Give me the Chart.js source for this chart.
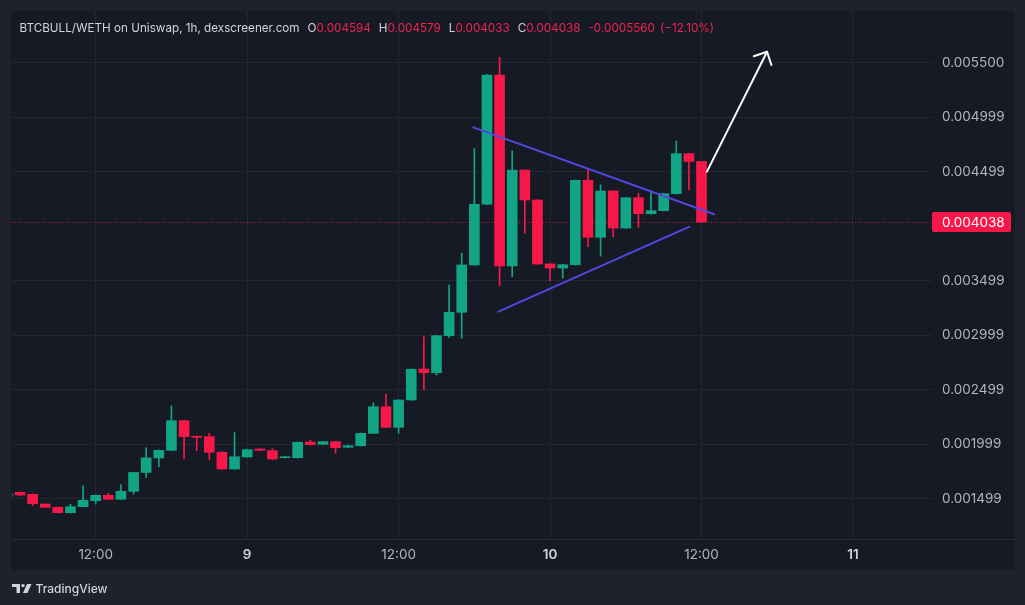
<!DOCTYPE html>
<html>
<head>
<meta charset="utf-8">
<title>BTCBULL/WETH 1h</title>
<script src="https://cdn.jsdelivr.net/npm/chart.js@4.4.1/dist/chart.umd.min.js"></script>
<style>
  html, body { margin: 0; padding: 0; background: #1f222c; }
  #wrap { position: relative; width: 1025px; height: 605px; }
</style>
</head>
<body>
<div id="wrap"><canvas id="chart"></canvas></div>
<script>
// Hour offsets from 00:00 on day 8, one candle per hour
const hours = [5,6,7,8,9,10,11,12,13,14,15,16,17,18,19,20,21,22,23,24,25,26,27,28,29,30,31,32,
  33,34,35,36,37,38,39,40,41,42,43,44,45,46,47,48,49,50,51,52,53,54,55,56,57,58,59,60];

const opens = [0.001520,0.001558,0.001539,0.001450,0.001420,0.001371,0.001426,0.001481,0.001530,0.001494,
  0.001567,0.001740,0.001873,0.001943,0.002215,0.002072,0.002068,0.001925,0.001772,0.001882,
  0.001955,0.001940,0.001875,0.001875,0.002019,0.001998,0.002022,0.001971,0.001985,0.002099,
  0.002343,0.002154,0.002405,0.002689,0.002655,0.002995,0.003210,0.003644,0.004201,0.005387,
  0.003634,0.004515,0.004240,0.003653,0.003616,0.003646,0.004421,0.003898,0.004323,0.003983,
  0.004261,0.004114,0.004142,0.004298,0.004665,0.004594];

const highs = [0.001560,0.001560,0.001542,0.001452,0.001422,0.001448,0.001616,0.001532,0.001549,0.001628,
  0.001742,0.001967,0.001945,0.002350,0.002218,0.002074,0.002099,0.001928,0.002105,0.001952,
  0.001957,0.001958,0.001886,0.002019,0.002038,0.002024,0.002025,0.001988,0.002102,0.002380,
  0.002457,0.002408,0.002690,0.002986,0.002998,0.003460,0.003751,0.004711,0.005390,0.005550,
  0.004690,0.004518,0.004243,0.003656,0.003649,0.004424,0.004525,0.004378,0.004326,0.004264,
  0.004302,0.004325,0.004301,0.004782,0.004668,0.004579];

const lows = [0.001500,0.001530,0.001435,0.001418,0.001368,0.001368,0.001423,0.001450,0.001492,0.001490,
  0.001542,0.001695,0.001793,0.001940,0.001863,0.001940,0.001854,0.001768,0.001768,0.001880,
  0.001941,0.001860,0.001873,0.001873,0.001993,0.001996,0.001916,0.001968,0.001982,0.002096,
  0.002150,0.002099,0.002402,0.002497,0.002634,0.002980,0.002971,0.003640,0.004198,0.003454,
  0.003536,0.003935,0.003650,0.003500,0.003522,0.003643,0.003812,0.003726,0.003903,0.003980,
  0.003990,0.004111,0.004139,0.004295,0.004332,0.004033];

const closes = [0.001545,0.001533,0.001453,0.001420,0.001371,0.001426,0.001484,0.001530,0.001494,0.001567,
  0.001740,0.001873,0.001943,0.002215,0.002068,0.002062,0.001925,0.001772,0.001884,0.001949,
  0.001943,0.001863,0.001884,0.002017,0.001995,0.002022,0.001967,0.001985,0.002099,0.002343,
  0.002154,0.002405,0.002687,0.002655,0.002995,0.003210,0.003644,0.004201,0.005387,0.003634,
  0.004515,0.004240,0.003653,0.003616,0.003646,0.004421,0.003898,0.004323,0.003983,0.004261,
  0.004114,0.004142,0.004298,0.004665,0.004594,0.004038];

// Price scale and time scale labels
const priceTicks = [0.001499, 0.001999, 0.002499, 0.002999, 0.003499, 0.004499, 0.004999, 0.005500];
const timeTickHours = [12, 24, 36, 48, 60, 72];
const timeTickLabels = ['12:00', '9', '12:00', '10', '12:00', '11'];

// Drawn pattern: converging trend lines and the breakout arrow, as [hour, price] points
const upperTrend = [[41.92, 0.004907], [61.01, 0.004109]];
const lowerTrend = [[43.90, 0.003216], [59.05, 0.003995]];
const breakoutArrow = [[60.43, 0.004500], [65.19, 0.005601]];

const pairTitle = 'BTCBULL/WETH on Uniswap, 1h, dexscreener.com';
const brand = 'TradingView';

const UP = '#12a585';
const DOWN = '#f7184a';
const TEXT_RED = '#ee2250';
const FONT = 'Inter, "Noto Sans", "Liberation Sans", sans-serif';

const candleColors = opens.map((o, i) => closes[i] >= o ? UP : DOWN);
const last = closes.length - 1;

const bodies = hours.map((h, i) => ({ x: h, y: [opens[i], closes[i]] }));
const wicks = hours.map((h, i) => ({ x: h, y: [lows[i], highs[i]] }));

function drawLine(ctx, chart, pts, color, width) {
  const xs = chart.scales.x, ys = chart.scales.y;
  ctx.save();
  ctx.strokeStyle = color;
  ctx.lineWidth = width;
  ctx.lineCap = 'round';
  ctx.beginPath();
  ctx.moveTo(xs.getPixelForValue(pts[0][0]), ys.getPixelForValue(pts[0][1]));
  ctx.lineTo(xs.getPixelForValue(pts[1][0]), ys.getPixelForValue(pts[1][1]));
  ctx.stroke();
  ctx.restore();
}

function noEdgePadding(s) {
  s.paddingTop = 0;
  s.paddingBottom = 0;
  s.paddingLeft = 0;
  s.paddingRight = 0;
}

const decor = {
  id: 'decor',
  beforeDraw(chart) {
    const ctx = chart.ctx;
    ctx.save();
    ctx.fillStyle = '#1f222c';
    ctx.fillRect(0, 0, chart.width, chart.height);
    ctx.fillStyle = '#161a25';
    ctx.beginPath();
    ctx.roundRect(11, 11, 1015 - 11, 570 - 11, 3);
    ctx.fill();
    ctx.restore();
  },
  beforeDatasetsDraw(chart) {
    // dotted line at the last close
    const ctx = chart.ctx, a = chart.chartArea;
    const y = Math.round(chart.scales.y.getPixelForValue(closes[last])) + 0.5;
    ctx.save();
    ctx.strokeStyle = 'rgba(247,24,74,0.75)';
    ctx.lineWidth = 1;
    ctx.setLineDash([1, 2]);
    ctx.beginPath();
    ctx.moveTo(a.left, y);
    ctx.lineTo(a.right, y);
    ctx.stroke();
    ctx.restore();
  },
  afterDatasetsDraw(chart) {
    const ctx = chart.ctx;
    drawLine(ctx, chart, upperTrend, '#5247e0', 2);
    drawLine(ctx, chart, lowerTrend, '#5247e0', 2);
    drawLine(ctx, chart, breakoutArrow, '#ffffff', 2);
    // arrow head
    const xs = chart.scales.x, ys = chart.scales.y;
    const x0 = xs.getPixelForValue(breakoutArrow[0][0]), y0 = ys.getPixelForValue(breakoutArrow[0][1]);
    const x1 = xs.getPixelForValue(breakoutArrow[1][0]), y1 = ys.getPixelForValue(breakoutArrow[1][1]);
    const back = Math.atan2(y0 - y1, x0 - x1);
    const len = 14, spread = 0.78;
    ctx.save();
    ctx.strokeStyle = '#ffffff';
    ctx.lineWidth = 2;
    ctx.lineCap = 'round';
    ctx.lineJoin = 'round';
    ctx.beginPath();
    ctx.moveTo(x1 + len * Math.cos(back + spread), y1 + len * Math.sin(back + spread));
    ctx.lineTo(x1, y1);
    ctx.lineTo(x1 + len * Math.cos(back - spread), y1 + len * Math.sin(back - spread));
    ctx.stroke();
    ctx.restore();
  },
  afterDraw(chart) {
    const ctx = chart.ctx, a = chart.chartArea;
    ctx.save();
    // bottom border of the plot
    ctx.strokeStyle = '#2a2e39';
    ctx.lineWidth = 1;
    ctx.beginPath();
    ctx.moveTo(a.left, a.bottom + 0.5);
    ctx.lineTo(1015, a.bottom + 0.5);
    ctx.stroke();

    // last price tag on the price scale
    const py = chart.scales.y.getPixelForValue(closes[last]);
    ctx.fillStyle = DOWN;
    ctx.beginPath();
    ctx.roundRect(a.right, py - 10, 79, 20, 2);
    ctx.fill();
    ctx.fillStyle = '#ffffff';
    ctx.font = '13.5px ' + FONT;
    ctx.textBaseline = 'middle';
    ctx.textAlign = 'left';
    ctx.fillText(closes[last].toFixed(6), a.right + 10, py + 0.5);

    // legend line: symbol and OHLC of the last bar
    const prev = closes[last - 1];
    const change = closes[last] - prev;
    const pct = change / prev * 100;
    let size = 13;
    ctx.font = size + 'px ' + FONT;
    size = size * 280 / ctx.measureText(pairTitle).width;
    ctx.font = size.toFixed(2) + 'px ' + FONT;
    const ty = 28;
    let x = 19.5;
    ctx.fillStyle = '#d1d4dc';
    ctx.fillText(pairTitle, x, ty);
    x += ctx.measureText(pairTitle).width + 8;
    const parts = [['O', opens[last]], ['H', highs[last]], ['L', lows[last]], ['C', closes[last]]];
    parts.forEach(([k, v]) => {
      ctx.fillStyle = '#d1d4dc';
      ctx.fillText(k, x, ty);
      x += ctx.measureText(k).width;
      ctx.fillStyle = TEXT_RED;
      const s = v.toFixed(6);
      ctx.fillText(s, x, ty);
      x += ctx.measureText(s).width + 8;
    });
    const chg = (change < 0 ? '-' : '+') + Math.abs(change).toFixed(7);
    ctx.fillStyle = TEXT_RED;
    ctx.fillText(chg, x, ty);
    x += ctx.measureText(chg).width + 5;
    ctx.fillText('(' + (pct < 0 ? '\u2212' : '+') + Math.abs(pct).toFixed(2) + '%)', x, ty);

    // TradingView mark
    ctx.fillStyle = '#d1d4dc';
    ctx.fillRect(12, 584, 8, 3);
    ctx.fillRect(16.5, 584, 3.5, 9);
    ctx.beginPath();
    ctx.arc(23, 585.6, 1.7, 0, Math.PI * 2);
    ctx.fill();
    ctx.beginPath();
    ctx.moveTo(27, 584);
    ctx.lineTo(31.5, 584);
    ctx.lineTo(27.5, 593);
    ctx.lineTo(23, 593);
    ctx.closePath();
    ctx.fill();
    ctx.font = '500 13px ' + FONT;
    const bSize = 13 * 72 / ctx.measureText(brand).width;
    ctx.font = '500 ' + bSize.toFixed(2) + 'px ' + FONT;
    ctx.fillText(brand, 35.5, 589.5);
    ctx.restore();
  }
};

new Chart(document.getElementById('chart'), {
  type: 'bar',
  data: {
    datasets: [
      { label: 'body', data: bodies, backgroundColor: candleColors, barThickness: 10,
        minBarLength: 1, grouped: false, borderWidth: 0, clip: 0 },
      { label: 'wick', data: wicks, backgroundColor: candleColors, barThickness: 1,
        grouped: false, borderWidth: 0, clip: 0 }
    ]
  },
  options: {
    responsive: true,
    maintainAspectRatio: false,
    devicePixelRatio: 1,
    animation: false,
    events: [],
    layout: { padding: { left: 12, top: 11, right: 10, bottom: 35 } },
    plugins: { legend: { display: false }, tooltip: { enabled: false } },
    scales: {
      x: {
        type: 'linear',
        min: 5.368,
        max: 78.26,
        offset: false,
        afterBuildTicks(s) { s.ticks = timeTickHours.map(v => ({ value: v })); },
        afterFit(s) { s.height = 31; noEdgePadding(s); },
        grid: { color: '#232734', lineWidth: 1, drawTicks: false, offset: false },
        border: { display: false },
        ticks: {
          autoSkip: false,
          maxRotation: 0,
          padding: 8,
          callback: (v) => timeTickLabels[timeTickHours.indexOf(v)],
          color: (c) => (c.tick && c.tick.value % 24 === 0) ? '#d1d4dc' : '#b2b5be',
          font: (c) => ({ family: FONT, size: 13.5,
            weight: (c.tick && c.tick.value % 24 === 0) ? '600' : '400' })
        }
      },
      y: {
        type: 'linear',
        position: 'right',
        min: 0.0011292,
        max: 0.0059744,
        afterBuildTicks(s) { s.ticks = priceTicks.map(v => ({ value: v })); },
        afterFit(s) { s.width = 83; noEdgePadding(s); },
        grid: { color: '#232734', lineWidth: 1, drawTicks: false },
        border: { display: false },
        ticks: {
          padding: 10,
          color: '#b2b5be',
          font: { family: FONT, size: 13.5 },
          callback: (v) => Number(v).toFixed(6)
        }
      }
    }
  },
  plugins: [decor]
});
</script>
</body>
</html>
